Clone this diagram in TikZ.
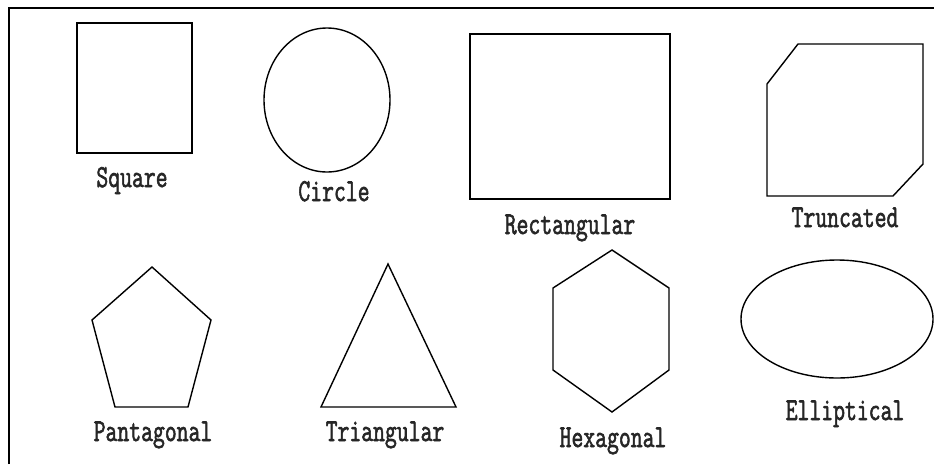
\documentclass[tikz,border=0pt]{standalone}
\usepackage{fontspec}
\setmonofont[AutoFakeBold=2.2]{Latin Modern Mono}
\usetikzlibrary{positioning}

\begin{document}
\begin{tikzpicture}[
      x=1pt, y=-1pt,
      outline/.style={draw, line width=1.4pt, line join=miter},
      caption/.style={font=\ttfamily\bfseries\fontsize{32}{32}\selectfont,
        text=black!85, xscale=0.72, inner sep=0pt, anchor=base}
    ]
      \useasboundingbox (0,0) rectangle (934,464);
      % frame
      \draw[line width=1.4pt] (9,464) -- (9,8) -- (934,8);
      % top row
      \draw[outline] (77,23) rectangle (192,153);
      \node[caption] (square) at (132,187) {Square};
      \draw[outline] (327,100) ellipse [x radius=63, y radius=72];
      \node[caption] (circle) at (334,201) {Circle};
      \draw[outline] (470,34) rectangle (670,199);
      \node[caption] (rect) at (570,234) {Rectangular};
      \draw[outline] (798,44) -- (923,44) -- (923,164) -- (893,196)
        -- (767,196) -- (767,84) -- cycle;
      \node[caption] (trunc) at (845,227) {Truncated};
      % bottom row
      \draw[outline] (152,267) -- (211,320) -- (188,407) -- (115,407)
        -- (92,320) -- cycle;
      \node[caption] (penta) at (153,441) {Pantagonal};
      \draw[outline] (388,264) -- (456,407) -- (321,407) -- cycle;
      \node[caption] (tri) at (385,441) {Triangular};
      \draw[outline] (612,250) -- (669,288) -- (669,370) -- (612,412)
        -- (553,370) -- (553,288) -- cycle;
      \node[caption] (hexa) at (613,447) {Hexagonal};
      \draw[outline] (837,319) ellipse [x radius=96, y radius=59];
      \node[caption] (ellip) at (845,420) {Elliptical};
    \end{tikzpicture}
\end{document}
